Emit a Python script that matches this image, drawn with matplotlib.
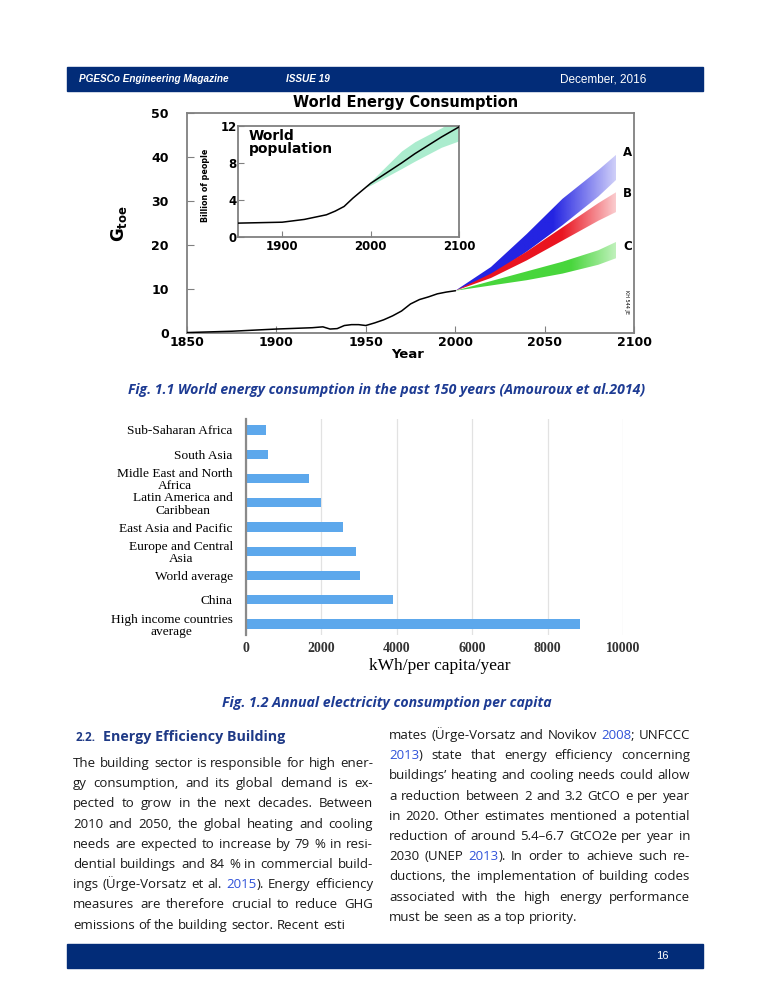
import re
import numpy as np
import matplotlib
matplotlib.use('Agg')
import matplotlib.pyplot as plt
from matplotlib.patches import Rectangle
from matplotlib.colors import to_rgb

W, H = 772, 1000

# World energy consumption, history (Gtoe)
hist_years = [1850, 1875, 1900, 1920, 1926, 1930, 1934, 1938, 1942, 1946, 1950,
              1955, 1960, 1965, 1970, 1975, 1980, 1985, 1990, 1995, 2000]
hist_gtoe = [0.1, 0.4, 0.9, 1.2, 1.4, 0.9, 1.0, 1.7, 1.9, 1.9, 1.7,
             2.3, 3.0, 3.9, 5.0, 6.6, 7.6, 8.2, 8.9, 9.3, 9.6]

# Scenarios A, B, C (low / high edge of each band)
scen_years = [2000, 2020, 2040, 2060, 2080, 2090]
scen_a_low = [9.6, 13.0, 18.5, 24.5, 31.0, 34.8]
scen_a_high = [9.6, 15.0, 22.5, 30.5, 37.0, 40.5]
scen_b_low = [9.6, 12.5, 16.5, 21.0, 25.5, 27.5]
scen_b_high = [9.6, 13.5, 18.5, 24.0, 29.5, 32.0]
scen_c_low = [9.6, 10.8, 12.0, 13.5, 15.5, 17.0]
scen_c_high = [9.6, 11.8, 14.0, 16.2, 18.8, 20.7]
scen_labels = ['A', 'B', 'C']
scen_label_y = [41.0, 31.8, 19.6]

# World population (billion)
pop_years = [1850, 1900, 1925, 1950, 1960, 1970, 1980, 1990, 2000, 2035, 2050, 2080, 2100]
pop_bn = [1.5, 1.6, 1.9, 2.4, 2.8, 3.3, 4.2, 5.0, 5.8, 8.0, 9.0, 10.8, 11.9]
pop_band_years = [1995, 2000, 2035, 2050, 2080, 2100]
pop_band_low = [5.4, 5.6, 7.4, 8.2, 9.7, 10.4]
pop_band_high = [5.4, 6.0, 9.3, 10.3, 11.8, 13.0]

# Annual electricity consumption per capita (kWh)
regions = ['Sub-Saharan Africa', 'South Asia', 'Midle East and North\nAfrica',
           'Latin America and\nCaribbean', 'East Asia and Pacific',
           'Europe and Central\nAsia', 'World average', 'China',
           'High income countries\naverage']
kwh_per_capita = [530, 590, 1660, 1980, 2560, 2930, 3030, 3900, 8870]

NAVY = '#022c78'
CAPTION = '#1d3b93'
HEAD = '#1f3a86'
LINK = '#2f52d9'
BODY_FONT = 'Open Sans'


def fx(x):
    return x / W


def fy(y):
    return 1 - y / H


def axes_px(fig, left, top, right, bottom):
    return fig.add_axes([fx(left), fy(bottom), (right - left) / W, (bottom - top) / H])


def gradient_band(ax, x, lo, hi, color, fade_from, alpha_end):
    poly = ax.fill_between(x, lo, hi, facecolor='none', edgecolor='none')
    n = 200
    xs = np.linspace(x[0], x[-1], n)
    img = np.zeros((1, n, 4))
    img[..., :3] = to_rgb(color)
    t = np.clip((xs - fade_from) / (x[-1] - fade_from), 0, 1)
    img[0, :, 3] = 1 - t * (1 - alpha_end)
    im = ax.imshow(img, extent=[x[0], x[-1], min(lo), max(hi)], aspect='auto',
                   origin='lower', interpolation='bilinear', zorder=2)
    im.set_clip_path(poly.get_paths()[0], ax.transData)


fig = plt.figure(figsize=(W / 100, H / 100), dpi=100)
fig.patch.set_facecolor('white')

# header and footer bars
fig.add_artist(Rectangle((fx(67), fy(91)), (703 - 67) / W, 24 / H,
                         transform=fig.transFigure, color=NAVY, zorder=0))
fig.add_artist(Rectangle((fx(67), fy(968)), (703 - 67) / W, 24 / H,
                         transform=fig.transFigure, color=NAVY, zorder=0))
fig.text(fx(79), fy(79), 'PGESCo Engineering Magazine', color='white', fontsize=7.2,
         family='Liberation Sans', weight='bold', style='italic', va='center')
fig.text(fx(286), fy(79), 'ISSUE 19', color='white', fontsize=7.2,
         family='Liberation Sans', weight='bold', style='italic', va='center')
fig.text(fx(560), fy(79), 'December, 2016', color='white', fontsize=8.5,
         family='Liberation Sans', va='center')
fig.text(fx(662), fy(956), '16', color='white', fontsize=8,
         family='Liberation Sans', va='center', ha='center')

# ---- Fig 1.1 world energy consumption ----
ax = axes_px(fig, 187, 113, 634, 333)
gradient_band(ax, scen_years, scen_a_low, scen_a_high, '#2424e2', 2055, 0.22)
gradient_band(ax, scen_years, scen_b_low, scen_b_high, '#ea1420', 2060, 0.22)
gradient_band(ax, scen_years, scen_c_low, scen_c_high, '#48d63c', 2065, 0.35)
ax.plot(hist_years, hist_gtoe, color='black', lw=1.1, zorder=3)
for lab, yy in zip(scen_labels, scen_label_y):
    ax.text(2094, yy, lab, fontsize=8.5, weight='bold', ha='left', va='center')
ax.text(2096, 7, 'KH 544 JE', fontsize=3.5, rotation=270, ha='center', va='center')
ax.set_xlim(1850, 2100)
ax.set_ylim(0, 50)
ax.set_xticks([1850, 1900, 1950, 2000, 2050, 2100])
ax.set_yticks([0, 10, 20, 30, 40, 50])
for s in ax.spines.values():
    s.set_color('#808080')
    s.set_linewidth(1.3)
ax.tick_params(axis='both', direction='in', length=5, color='#808080', labelsize=9)
ax.tick_params(axis='y', pad=13)
ax.tick_params(axis='x', pad=2)
for lbl in ax.get_xticklabels() + ax.get_yticklabels():
    lbl.set_fontweight('bold')
fig.text(fx(406), fy(103), 'World Energy Consumption', fontsize=10.5, weight='bold',
         ha='center', va='center')
fig.text(fx(408), fy(355), 'Year', fontsize=9.5, weight='bold', ha='center', va='center')
fig.text(fx(119), fy(224), r'$\mathbf{G}_{\mathbf{toe}}$', fontsize=12,
         rotation=90, ha='center', va='center')

# inset: world population
ins = axes_px(fig, 238, 126, 459, 237)
ins.fill_between(pop_band_years, pop_band_low, pop_band_high, color='#9de9c6',
                 alpha=0.85, lw=0, zorder=1)
ins.plot(pop_years, pop_bn, color='black', lw=1.1, zorder=3)
ins.set_xlim(1850, 2100)
ins.set_ylim(0, 12)
ins.set_xticks([1900, 2000, 2100])
ins.set_yticks([0, 4, 8, 12])
for s in ins.spines.values():
    s.set_color('#808080')
    s.set_linewidth(1.3)
ins.tick_params(axis='both', direction='in', length=4, color='#808080', labelsize=8.5)
ins.tick_params(axis='y', pad=1)
ins.tick_params(axis='x', pad=2)
for lbl in ins.get_xticklabels() + ins.get_yticklabels():
    lbl.set_fontweight('bold')
ins.text(1862, 11.7, 'World\npopulation', fontsize=10, weight='bold', va='top',
         linespacing=0.9)
fig.text(fx(206), fy(185), 'Billion of people', fontsize=6.4, weight='bold',
         fontstretch='condensed', rotation=90, ha='center', va='center')

fig.text(fx(387), fy(390),
         'Fig. 1.1 World energy consumption in the past 150 years (Amouroux et al.2014)',
         fontsize=10.1, weight='bold', style='italic', family=BODY_FONT, color=CAPTION,
         ha='center', va='center')

# ---- Fig 1.2 electricity per capita ----
bx = axes_px(fig, 246, 419, 623, 635)
ypos = np.arange(len(regions))
bx.barh(ypos, kwh_per_capita, height=0.38, color='#5da8ec', zorder=2)
bx.set_ylim(len(regions) - 0.55, -0.45)
bx.set_xlim(0, 10000)
bx.set_xticks([0, 2000, 4000, 6000, 8000, 10000])
bx.set_yticks(ypos)
bx.set_yticklabels(regions, family='Liberation Serif', fontsize=9.6,
                   linespacing=1.05, multialignment='center')
bx.grid(axis='x', color='#e2e2e2', lw=0.9, zorder=0)
for side in ['top', 'right', 'bottom']:
    bx.spines[side].set_visible(False)
bx.spines['left'].set_color('#8a8a8a')
bx.spines['left'].set_linewidth(1.6)
bx.tick_params(axis='y', left=False, pad=6)
bx.tick_params(axis='x', bottom=False, pad=1.5)
for lbl in bx.get_xticklabels():
    lbl.set_family('Liberation Serif')
    lbl.set_fontweight('bold')
    lbl.set_fontsize(10)
    lbl.set_color('#333333')
fig.text(fx(440), fy(666), 'kWh/per capita/year', family='Liberation Serif',
         fontsize=12.5, ha='center', va='center')

fig.text(fx(387), fy(703), 'Fig. 1.2 Annual electricity consumption per capita',
         fontsize=10.2, weight='bold', style='italic', family=BODY_FONT, color=CAPTION,
         ha='center', va='center')

# ---- body text (two justified columns) ----
fig.text(fx(76), fy(741), '2.2.', fontsize=8.5, weight='bold', family=BODY_FONT,
         color=HEAD, va='baseline')
fig.text(fx(103), fy(741), 'Energy Efficiency Building', fontsize=10.3, weight='bold',
         family=BODY_FONT, color=HEAD, va='baseline')

left_lines = [
    'The building sector is responsible for high ener-',
    'gy consumption, and its global demand is ex-',
    'pected to grow in the next decades. Between',
    '2010 and 2050, the global heating and cooling',
    'needs are expected to increase by 79 % in resi-',
    'dential buildings and 84 % in commercial build-',
    'ings (Ürge-Vorsatz et al. {2015}). Energy efficiency',
    'measures are therefore crucial to reduce GHG',
    'emissions of the building sector. Recent esti',
]
right_lines = [
    'mates (Ürge-Vorsatz and Novikov {2008}; UNFCCC',
    '{2013}) state that energy efficiency concerning',
    'buildings’ heating and cooling needs could allow',
    'a reduction between 2 and 3.2 GtCO e per year',
    'in 2020. Other estimates mentioned a potential',
    'reduction of around 5.4–6.7 GtCO2e per year in',
    '2030 (UNEP {2013}). In order to achieve such re-',
    'ductions, the implementation of building codes',
    'associated with the high energy performance',
    'must be seen as a top priority.',
]
BODY_SIZE = 9.5
renderer = fig.canvas.get_renderer()


def text_width(s):
    t = fig.text(0, 0, s, fontsize=BODY_SIZE, family=BODY_FONT)
    w = t.get_window_extent(renderer).width
    t.remove()
    return w


space_w = text_width('a a') - text_width('aa')


def segments(word):
    out = []
    for part in re.split(r'(\{[^}]*\})', word):
        if not part:
            continue
        if part.startswith('{'):
            out.append((part[1:-1], LINK))
        else:
            out.append((part, '#1a1a1a'))
    return out


def draw_line(line, x0, x1, y, justify):
    words = [[(s, c, text_width(s)) for s, c in segments(w)] for w in line.split(' ')]
    totals = [sum(seg[2] for seg in w) for w in words]
    gap = space_w
    if justify and len(words) > 1:
        gap = (x1 - x0 - sum(totals)) / (len(words) - 1)
    x = x0
    for w, tot in zip(words, totals):
        xx = x
        for s, c, wd in w:
            fig.text(fx(xx), fy(y), s, fontsize=BODY_SIZE, family=BODY_FONT,
                     color=c, va='baseline', ha='left')
            xx += wd
        x += tot + gap


for i, line in enumerate(left_lines):
    draw_line(line, 73, 373, 767 + i * 20.2, i < len(left_lines) - 1)
for i, line in enumerate(right_lines):
    draw_line(line, 389, 690, 739 + i * 20.2, i < len(right_lines) - 1)

fig.savefig('out.png', dpi=100)
